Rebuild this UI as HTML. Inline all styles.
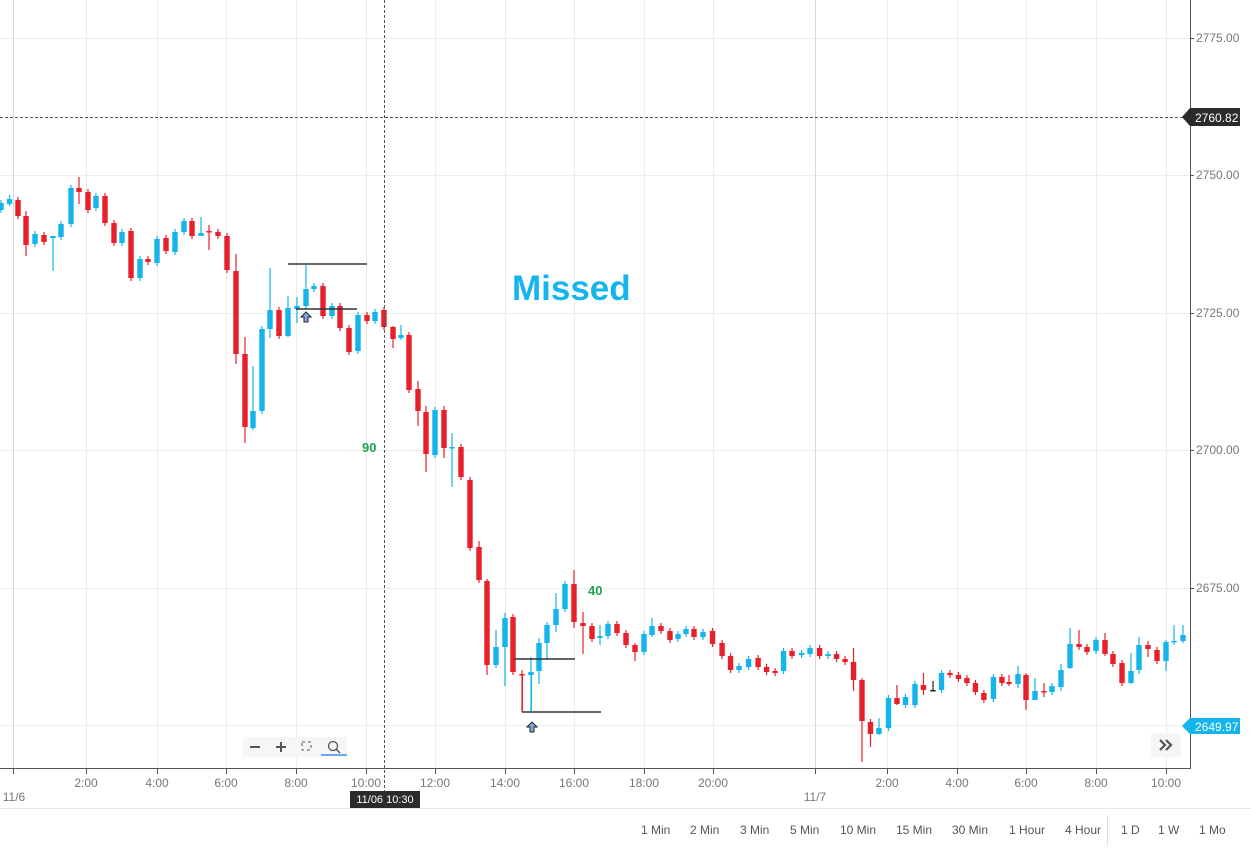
<!DOCTYPE html>
<html><head><meta charset="utf-8"><style>
body{margin:0;background:#fff;width:1251px;height:851px;overflow:hidden;font-family:"Liberation Sans",sans-serif}
svg{display:block}
</style></head><body>
<svg id="c" width="1251" height="851" xmlns="http://www.w3.org/2000/svg" font-family="Liberation Sans, sans-serif">
<g stroke="#ececec" stroke-width="1">
<line x1="0" y1="38.5" x2="1190" y2="38.5"/><line x1="0" y1="175.5" x2="1190" y2="175.5"/><line x1="0" y1="313.5" x2="1190" y2="313.5"/><line x1="0" y1="450.5" x2="1190" y2="450.5"/><line x1="0" y1="588.5" x2="1190" y2="588.5"/><line x1="0" y1="725.5" x2="1190" y2="725.5"/>
<line x1="86.5" y1="0" x2="86.5" y2="768"/><line x1="157.5" y1="0" x2="157.5" y2="768"/><line x1="226.5" y1="0" x2="226.5" y2="768"/><line x1="296.5" y1="0" x2="296.5" y2="768"/><line x1="366.5" y1="0" x2="366.5" y2="768"/><line x1="435.5" y1="0" x2="435.5" y2="768"/><line x1="505.5" y1="0" x2="505.5" y2="768"/><line x1="574.5" y1="0" x2="574.5" y2="768"/><line x1="644.5" y1="0" x2="644.5" y2="768"/><line x1="713.5" y1="0" x2="713.5" y2="768"/><line x1="887.5" y1="0" x2="887.5" y2="768"/><line x1="957.5" y1="0" x2="957.5" y2="768"/><line x1="1026.5" y1="0" x2="1026.5" y2="768"/><line x1="1096.5" y1="0" x2="1096.5" y2="768"/><line x1="1166.5" y1="0" x2="1166.5" y2="768"/>
</g>
<g stroke="#d6d6d6"><line x1="13.5" y1="0" x2="13.5" y2="768"/><line x1="815.5" y1="0" x2="815.5" y2="768"/></g>
<g id="cd"></g>
<g stroke="#333" stroke-width="1.5">
<line x1="288" y1="264" x2="367" y2="264"/><line x1="296" y1="309" x2="357" y2="309"/>
<line x1="514" y1="659" x2="575" y2="659"/><line x1="522" y1="712" x2="601" y2="712"/>
</g>
<line x1="522.5" y1="674" x2="522.5" y2="712" stroke="#e8202b" stroke-width="1"/>
<line x1="531.5" y1="672" x2="531.5" y2="712" stroke="#14b4ec" stroke-width="1"/>
<path d="M306 312 l-5 5 h3 v5 h4 v-5 h3 z" fill="#7fa8ea" stroke="#222" stroke-width="1"/>
<path d="M532 722 l-5 5 h3 v5 h4 v-5 h3 z" fill="#7fa8ea" stroke="#222" stroke-width="1"/>
<line x1="0" y1="117.5" x2="1183" y2="117.5" stroke="#555" stroke-dasharray="3,2"/>
<line x1="384.5" y1="0" x2="384.5" y2="792" stroke="#555" stroke-dasharray="3,2"/>
<text x="512" y="300" font-size="35" font-weight="bold" fill="#14b4ec">Missed</text>
<text x="362" y="452" font-size="13" font-weight="bold" fill="#1aa64a">90</text>
<text x="588" y="595" font-size="13" font-weight="bold" fill="#1aa64a">40</text>
<line x1="1190.5" y1="0" x2="1190.5" y2="769" stroke="#555"/>
<line x1="0" y1="768.5" x2="1191" y2="768.5" stroke="#555"/>
<g font-size="12" fill="#777">
<text x="1196" y="42">2775.00</text><text x="1196" y="179">2750.00</text><text x="1196" y="317">2725.00</text><text x="1196" y="454">2700.00</text><text x="1196" y="592">2675.00</text>
</g>
<g stroke="#555"><line x1="1190" y1="38.5" x2="1194" y2="38.5"/><line x1="1190" y1="175.5" x2="1194" y2="175.5"/><line x1="1190" y1="313.5" x2="1194" y2="313.5"/><line x1="1190" y1="450.5" x2="1194" y2="450.5"/><line x1="1190" y1="588.5" x2="1194" y2="588.5"/></g>
<path d="M1182 117 l8 -9 h50 v18 h-50 z" fill="#2b2b2b"/>
<text x="1195" y="122" font-size="12" fill="#fff">2760.82</text>
<path d="M1182 726 l8 -8 h50 v16 h-50 z" fill="#14b4ec"/>
<text x="1195" y="731" font-size="12" fill="#fff">2649.97</text>
<rect x="1151" y="733" width="30" height="24" rx="2" fill="#f5f5f5"/>
<path d="M1160 740 l5 5 l-5 5 M1166 740 l5 5 l-5 5" fill="none" stroke="#555" stroke-width="2.2"/>
<rect x="243" y="737" width="104" height="20" fill="#f6f6f6"/>
<line x1="250" y1="747" x2="260" y2="747" stroke="#555" stroke-width="2"/>
<line x1="276" y1="747" x2="286" y2="747" stroke="#555" stroke-width="2"/><line x1="281" y1="742" x2="281" y2="752" stroke="#555" stroke-width="2"/>
<rect x="302" y="742" width="9" height="8" fill="none" stroke="#555" stroke-dasharray="3,3"/>
<circle cx="333" cy="746" r="4.5" fill="none" stroke="#555" stroke-width="1.3"/><line x1="336" y1="749" x2="340" y2="753" stroke="#555" stroke-width="1.5"/>
<line x1="321" y1="755" x2="347" y2="755" stroke="#6aa7f5" stroke-width="2"/>
<g stroke="#555"><line x1="13.5" y1="769" x2="13.5" y2="774"/><line x1="86.5" y1="769" x2="86.5" y2="774"/><line x1="157.5" y1="769" x2="157.5" y2="774"/><line x1="226.5" y1="769" x2="226.5" y2="774"/><line x1="296.5" y1="769" x2="296.5" y2="774"/><line x1="366.5" y1="769" x2="366.5" y2="774"/><line x1="435.5" y1="769" x2="435.5" y2="774"/><line x1="505.5" y1="769" x2="505.5" y2="774"/><line x1="574.5" y1="769" x2="574.5" y2="774"/><line x1="644.5" y1="769" x2="644.5" y2="774"/><line x1="713.5" y1="769" x2="713.5" y2="774"/><line x1="815.5" y1="769" x2="815.5" y2="774"/><line x1="887.5" y1="769" x2="887.5" y2="774"/><line x1="957.5" y1="769" x2="957.5" y2="774"/><line x1="1026.5" y1="769" x2="1026.5" y2="774"/><line x1="1096.5" y1="769" x2="1096.5" y2="774"/><line x1="1166.5" y1="769" x2="1166.5" y2="774"/></g>
<g font-size="12" fill="#777" text-anchor="middle">
<text x="86" y="787">2:00</text><text x="157" y="787">4:00</text><text x="226" y="787">6:00</text><text x="296" y="787">8:00</text><text x="366" y="787">10:00</text><text x="435" y="787">12:00</text><text x="505" y="787">14:00</text><text x="574" y="787">16:00</text><text x="644" y="787">18:00</text><text x="713" y="787">20:00</text><text x="887" y="787">2:00</text><text x="957" y="787">4:00</text><text x="1026" y="787">6:00</text><text x="1096" y="787">8:00</text><text x="1166" y="787">10:00</text>
<text x="14" y="801">11/6</text><text x="815" y="801">11/7</text>
</g>
<rect x="350" y="791" width="70" height="17" fill="#2b2b2b"/>
<text x="385" y="803" font-size="11" fill="#fff" text-anchor="middle">11/06 10:30</text>
<line x1="0" y1="808.5" x2="1251" y2="808.5" stroke="#e6e6e6"/>
<line x1="1107.5" y1="815" x2="1107.5" y2="845" stroke="#ddd"/>
<g font-size="12" fill="#555">
<text x="641" y="834">1 Min</text><text x="690" y="834">2 Min</text><text x="740" y="834">3 Min</text><text x="790" y="834">5 Min</text><text x="840" y="834">10 Min</text><text x="896" y="834">15 Min</text><text x="952" y="834">30 Min</text><text x="1009" y="834">1 Hour</text><text x="1065" y="834">4 Hour</text><text x="1121" y="834">1 D</text><text x="1158" y="834">1 W</text><text x="1199" y="834">1 Mo</text>
</g>
</svg>
<script>
var B='#14b4ec',R='#e8202b';
var d=[[1,B,203,210],[9.5,B,199,204,195,206],[18,R,200,216],[26,R,216,245,211,256],[35,B,234,244],[44,R,235,242],[53,B,236,238,236,271],[61,B,224,237],[71,B,188,224],[79,R,188,192,177,204],[88,R,192,210],[96,B,196,208],[105,R,196,223],[114,R,223,243],[122,B,232,243],[131,R,231,278],[140,B,259,278],[148,R,259,262],[157,B,239,263],[166,R,238,251],[175,B,232,252],[184,B,221,232],[192,R,221,236],[201,B,233,236,217,235],[209,R,231,232,225,250],[218,R,232,236],[227,R,236,270],[236,R,271,354,254,364],[245,R,354,427,337,443],[253,B,411,428,366,430],[262,B,329,411],[270,B,310,329,268,338],[279,R,310,336],[288,B,308,336,296,337],[297,B,306,309,297,323],[306,B,289,306,265,309],[314,B,286,289],[323,R,286,316],[332,B,306,316],[340,R,306,328],[349,R,328,352],[358,B,315,351],[367,R,315,321],[375,B,312,321],[384,R,310,327],[393,R,327,339,326,348],[401,B,335,338,325,340],[409,R,335,390],[418,R,389,411,381,426],[426,R,412,454,406,472],[435,B,410,455],[444,R,410,448,406,458],[452,B,447,448,433,487],[461,R,447,477],[470,R,480,548],[479,R,547,580,541,583],[487,R,581,665,579,675],[496,B,647,665,630,668],[505,B,618,647,613,686],[513,R,617,672],[522,R,674,675,670,712],[531,B,672,675,657,712],[539,B,643,671,638,684],[547,B,625,643,622,660],[556,B,609,625,593,632],[565,B,584,609],[574,R,584,622,570,628],[583,R,623,626,612,654],[592,R,626,639],[600,B,636,638,625,645],[608,B,624,636],[617,R,624,633],[626,R,633,645],[635,R,645,652,643,661],[644,B,634,652],[652,B,626,635,618,637],[661,R,626,631],[670,R,631,640],[678,B,634,639],[686,B,629,634],[694,R,629,637],[703,B,632,637],[712,R,631,644],[721,R,643,656],[729,R,656,670],[737,B,666,670],[746,B,659,667],[755,R,658,667],[763,R,667,672],[771,R,671,673],[779,B,651,671],[787,R,651,656],[796,B,653,655],[804,B,648,654],[813,R,648,656],[821,B,654,656],[829,R,654,659],[837,R,659,662],[845,R,662,680,648,691],[853,R,680,721,678,762],[861,R,722,734,719,747],[869,B,728,734,718,735],[878,B,698,728],[886,R,698,704,685,705],[894,B,697,705],[903,B,684,705],[911,R,685,690,673,695],[920,'#222',690,691,681,691],[928,B,673,690],[936,R,673,675],[944,R,675,679],[952,R,678,683],[960,R,683,692],[968,R,693,700],[977,B,677,699],[985,R,677,683]];
d.forEach(function(c){if(c[0]>=712)c[0]=703+(c[0]-703)*1.06;});
d=d.concat([[1009,R,682,684,675,686],[1018,B,674,684,666,688],[1026,R,675,700,673,710],[1035,B,691,700,678,700],[1044,R,691,692,683,697],[1052,B,686,692],[1061,B,670,687,664,691],[1070,B,644,668,628,669],[1079,R,644,647,630,650],[1087,R,647,652],[1096,B,640,651],[1105,R,640,654,633,656],[1113,R,654,664],[1122,R,663,683],[1131,B,671,683,653,684],[1139,B,645,670,637,674],[1148,R,645,649,641,657],[1157,R,650,661],[1166,B,642,661,640,671],[1174,B,641,642,625,645],[1183,B,635,641,625,643]]);
var s='';
d.forEach(function(c){var x=c[0],t=c[2],b=c[3],wt=c[4]!==undefined?c[4]:t-3,wb=c[5]!==undefined?c[5]:b+3;
s+='<line x1="'+x+'" y1="'+wt+'" x2="'+x+'" y2="'+wb+'" stroke="'+c[1]+'" stroke-width="1.2"/>';
s+='<rect x="'+(x-2.7)+'" y="'+t+'" width="5.4" height="'+Math.max(1.5,b-t)+'" fill="'+c[1]+'"/>';});
document.getElementById('cd').innerHTML=s;
</script>
</body></html>
